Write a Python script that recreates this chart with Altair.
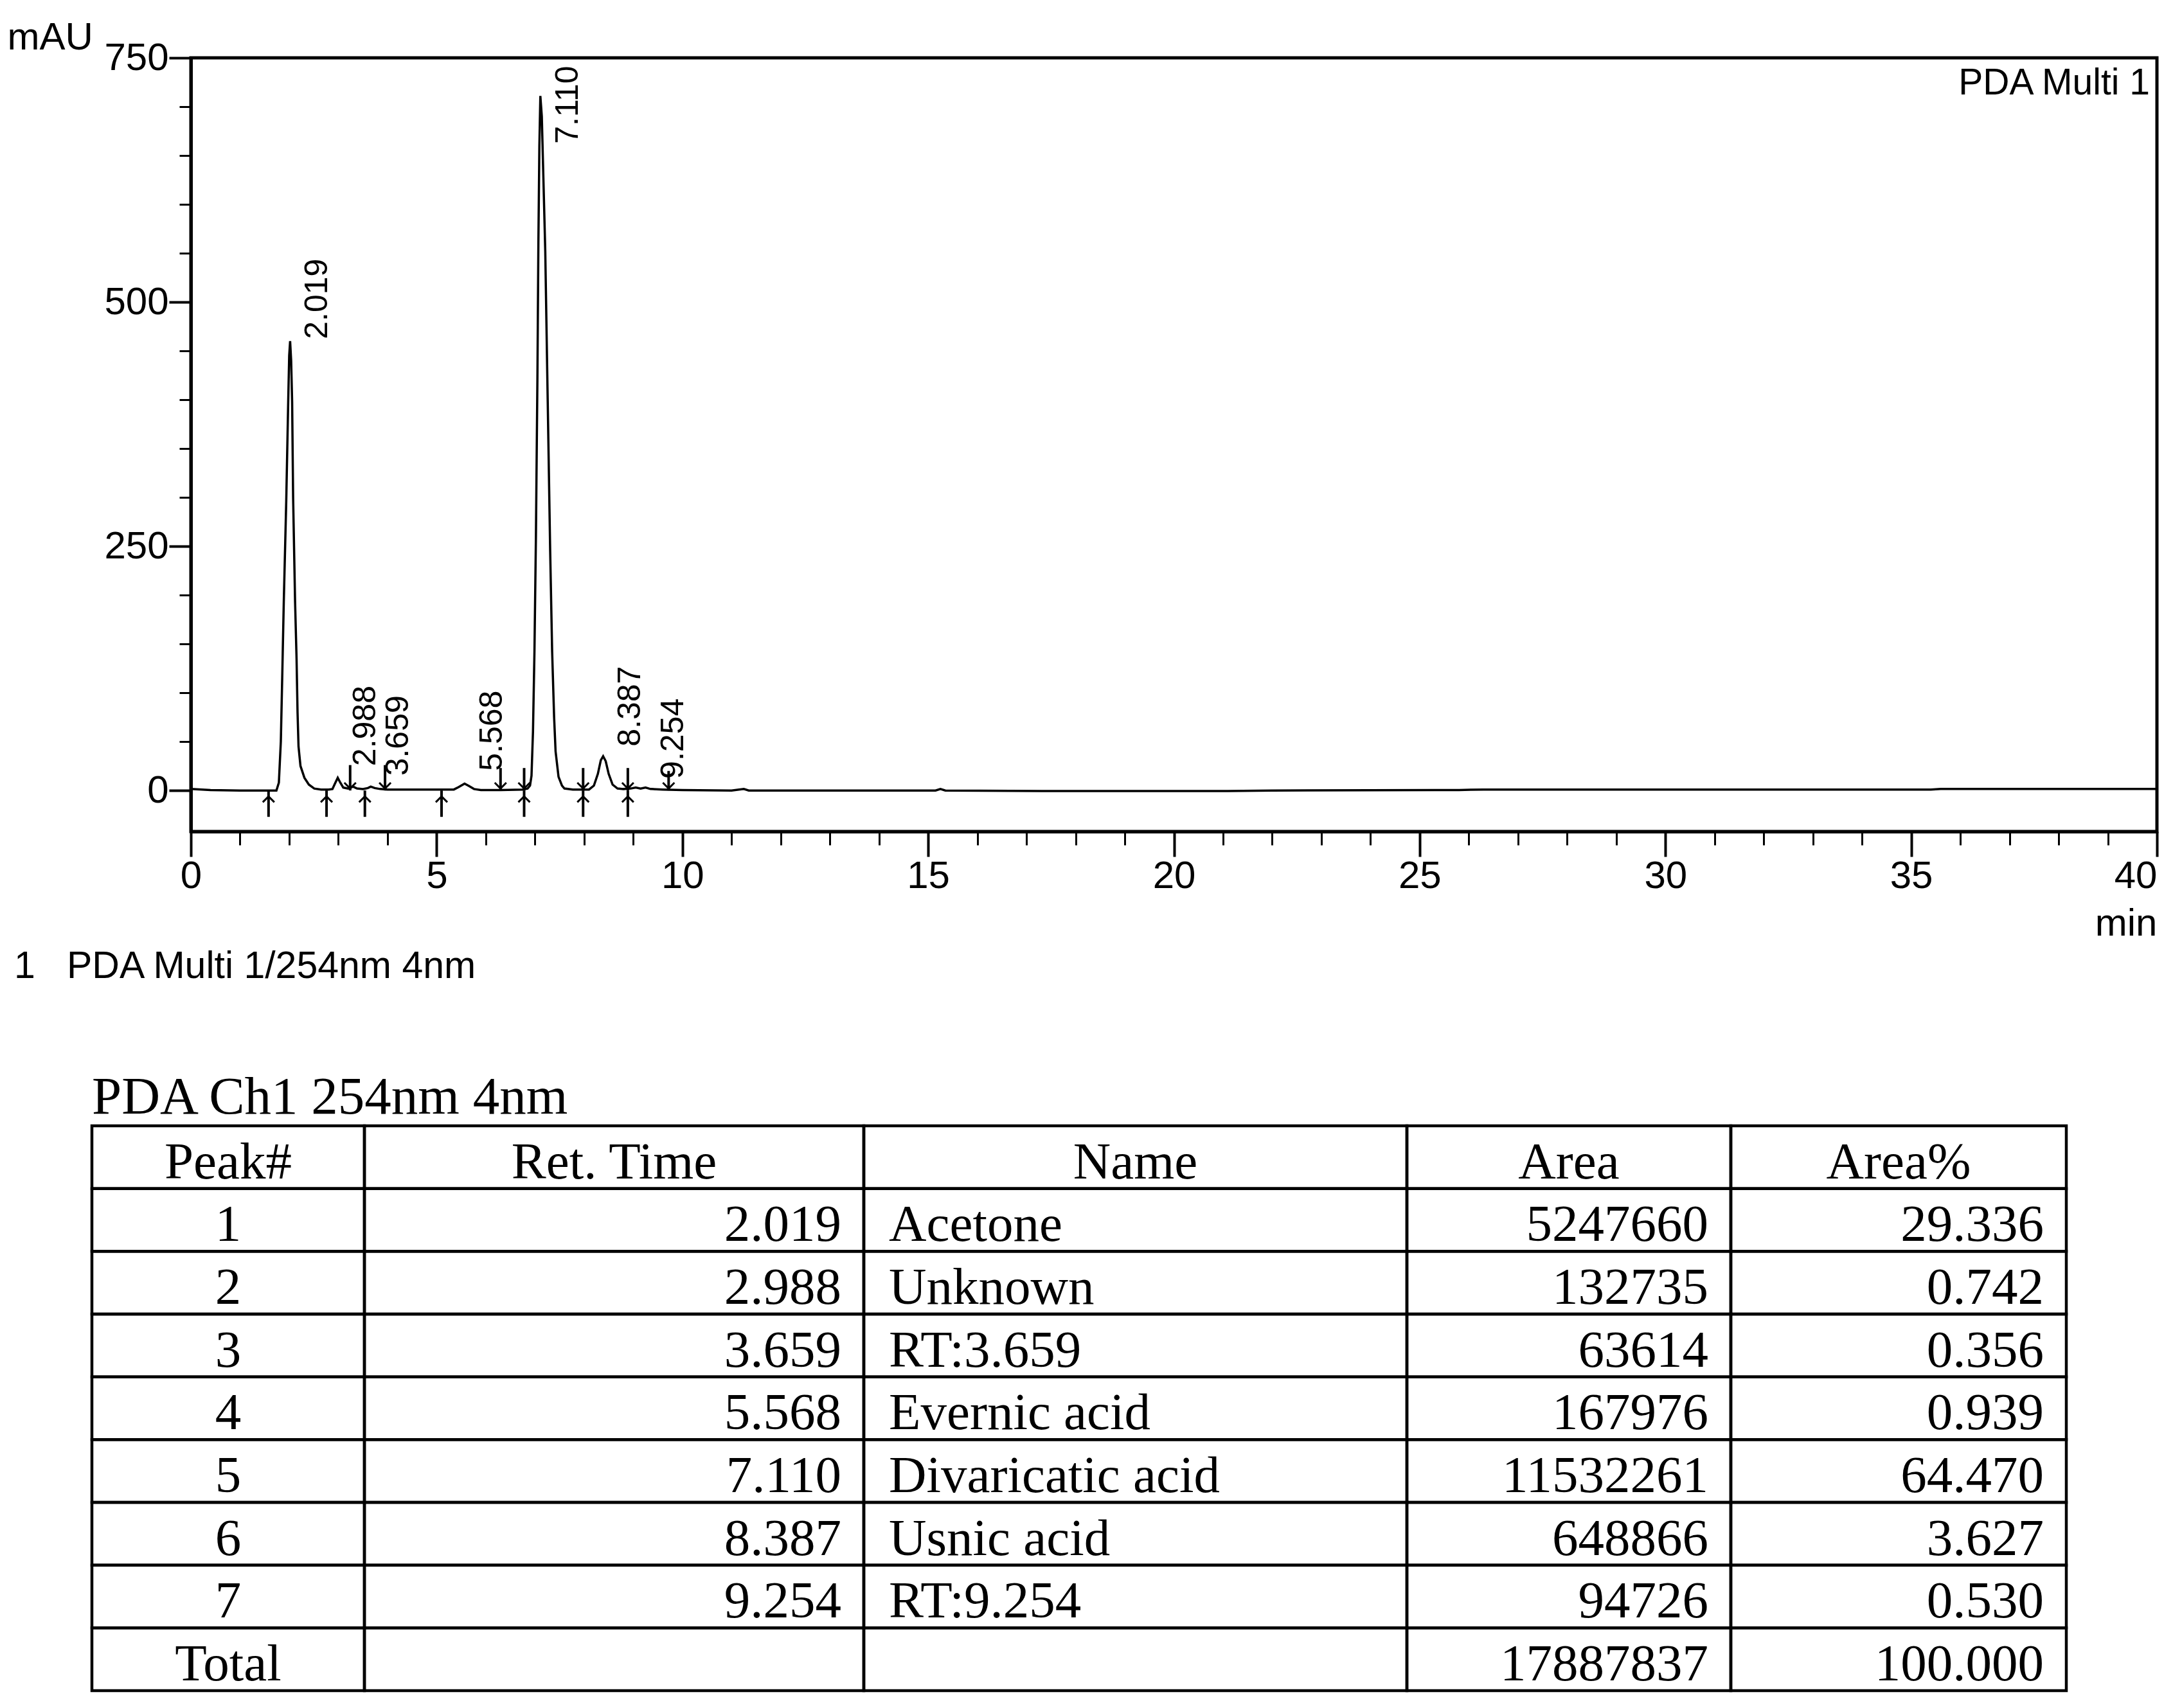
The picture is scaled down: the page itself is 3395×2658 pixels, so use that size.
import altair as alt
import pandas as pd

# ---------------- data ----------------
# chromatogram trace: (time [min], signal [mAU])
trace = [
    (0.0, 1.5), (0.4, 0.5), (1.0, 0), (1.60, 0), (1.74, 0), (1.79, 8), (1.83, 50),
    (1.86, 120), (1.89, 193), (1.94, 296), (1.98, 398), (2.00, 445), (2.019, 460),
    (2.04, 440), (2.06, 398), (2.08, 300), (2.12, 193), (2.15, 135), (2.17, 80),
    (2.19, 45), (2.23, 25), (2.31, 13), (2.40, 6), (2.51, 2), (2.65, 1), (2.80, 1),
    (2.88, 1.5), (2.94, 8), (2.988, 13), (3.04, 8), (3.10, 3), (3.20, 2), (3.30, 4),
    (3.38, 2), (3.50, 1.5), (3.60, 2.5), (3.66, 4), (3.74, 2.5), (3.85, 1.5), (4.0, 1),
    (4.5, 1), (5.0, 1), (5.35, 1), (5.45, 3.5), (5.568, 7), (5.66, 4.5), (5.76, 1.5),
    (5.90, 0.5), (6.30, 0.5), (6.75, 1), (6.85, 2), (6.90, 5), (6.93, 15), (6.96, 60),
    (6.99, 142), (7.02, 260), (7.05, 420), (7.07, 560), (7.09, 660), (7.11, 711),
    (7.14, 690), (7.16, 650), (7.21, 552), (7.26, 398), (7.31, 245), (7.35, 142),
    (7.39, 75), (7.42, 40), (7.48, 14), (7.55, 5), (7.60, 2), (7.77, 1), (8.10, 1),
    (8.20, 5), (8.28, 17), (8.34, 31), (8.387, 35), (8.44, 30), (8.50, 17), (8.58, 6),
    (8.68, 2), (8.80, 1.5), (8.95, 2), (9.05, 3), (9.15, 2), (9.25, 3), (9.35, 1.5),
    (9.60, 1), (10.0, 0.5), (11.0, 0), (11.25, 1.5), (11.35, 0), (15.15, 0),
    (15.25, 1.5), (15.35, 0), (17.3, -0.5), (21.1, -0.5), (22.0, 0), (25.3, 0.5),
    (25.8, 0.5), (26.3, 1), (35.4, 1), (35.6, 1.5), (40.0, 1.5),
]

peak_no = [1, 2, 3, 4, 5, 6, 7]
ret_time = [2.019, 2.988, 3.659, 5.568, 7.110, 8.387, 9.254]
peak_name = ["Acetone", "Unknown", "RT:3.659", "Evernic acid",
             "Divaricatic acid", "Usnic acid", "RT:9.254"]
peak_area = [5247660, 132735, 63614, 167976, 11532261, 648866, 94726]
area_pct = [29.336, 0.742, 0.356, 0.939, 64.470, 3.627, 0.530]
total_area = 17887837
total_pct = 100.000
label_base = [462, 25, 15, 20, 662, 45, 12]       # where each RT label starts (mAU)

start_marks = [1.58, 2.76, 3.54, 5.10, 6.78, 7.98, 8.89]   # baseline marks below
start_depth = [-27, -27, -27, -27, -27, -27, -27]
end_marks = [3.24, 3.95, 6.30, 6.78, 7.98, 8.89, 9.72]     # baseline marks above
end_height = [26, 26, 23, 23, 23, 23, 20]

x_major_ticks = [0, 5, 10, 15, 20, 25, 30, 35, 40]
x_minor_ticks = list(range(0, 41))
y_major_ticks = [0, 250, 500, 750]
y_minor_ticks = list(range(0, 751, 50))

header = ["Peak#", "Ret. Time", "Name", "Area", "Area%"]
table_title = "PDA Ch1 254nm 4nm"
channel_text = "1\u00a0\u00a0\u00a0PDA Multi 1/254nm 4nm"
corner_text = "PDA Multi 1"

# ---------------- styling ----------------
SANS = "Liberation Sans, Arial, sans-serif"
SERIF = "Liberation Serif, Times New Roman, serif"
W, H = 3059, 1204

xs = alt.Scale(domain=[0, 40], nice=False, zero=False)
ys = alt.Scale(domain=[-42, 750], nice=False, zero=False)

x_major = alt.Axis(
    orient="bottom", values=x_major_ticks, tickSize=39, tickWidth=4, tickColor="black",
    domain=True, domainWidth=5, domainColor="black", grid=False,
    labelFont=SANS, labelFontSize=60, labelColor="black", labelPadding=1,
    labelFlush=False, labelOverlap=False,
    labelAlign={"condition": {"test": "datum.value == 40", "value": "right"}, "value": "center"},
    title="min", titleFont=SANS, titleFontSize=60, titleFontWeight="normal",
    titleColor="black", titleAlign="right", titleBaseline="alphabetic",
    titleAngle=0, titleX=W, titleY=161,
)
y_major = alt.Axis(
    orient="left", values=y_major_ticks, tickSize=34, tickWidth=4, tickColor="black",
    domain=True, domainWidth=5, domainColor="black", grid=False,
    labelFont=SANS, labelFontSize=60, labelColor="black", labelPadding=1,
    labelFlush=False, labelOverlap=False,
    title="mAU", titleFont=SANS, titleFontSize=60, titleFontWeight="normal",
    titleColor="black", titleAlign="left", titleBaseline="alphabetic",
    titleAngle=0, titleX=-286, titleY=-14,
)
x_minor = alt.Axis(orient="bottom", values=x_minor_ticks, tickSize=21, tickWidth=3,
                   tickColor="black", domain=False, labels=False, grid=False, title=None)
y_minor = alt.Axis(orient="left", values=y_minor_ticks, tickSize=18, tickWidth=3,
                   tickColor="black", domain=False, labels=False, grid=False, title=None)

# ---------------- chromatogram ----------------
trace_df = pd.DataFrame(trace, columns=["t", "mau"])
curve = alt.Chart(trace_df).mark_line(color="black", strokeWidth=3.5).encode(
    x=alt.X("t:Q", scale=xs, axis=x_major),
    y=alt.Y("mau:Q", scale=ys, axis=y_major),
)

end_df = pd.DataFrame({"t": end_marks, "top": end_height, "base": [0] * len(end_marks)})
start_df = pd.DataFrame({"t": start_marks, "bottom": start_depth, "base": [0] * len(start_marks)})

end_rules = alt.Chart(end_df).mark_rule(color="black", strokeWidth=4).encode(
    x=alt.X("t:Q", scale=xs, axis=x_minor),
    y=alt.Y("top:Q", scale=ys, axis=y_minor),
    y2="base:Q",
)
start_rules = alt.Chart(start_df).mark_rule(color="black", strokeWidth=4).encode(
    x=alt.X("t:Q", scale=xs, axis=None),
    y=alt.Y("bottom:Q", scale=ys, axis=None),
    y2="base:Q",
)
up_heads = alt.Chart(start_df).transform_calculate(hy="-9").mark_point(
    shape="M-1,0.5L0,-0.5L1,0.5", size=324, filled=False, color="black", strokeWidth=3, opacity=1
).encode(
    x=alt.X("t:Q", scale=xs, axis=None),
    y=alt.Y("hy:Q", scale=ys, axis=None),
)
down_heads = alt.Chart(end_df).transform_calculate(hy="5").mark_point(
    shape="M-1,-0.5L0,0.5L1,-0.5", size=324, filled=False, color="black", strokeWidth=3, opacity=1
).encode(
    x=alt.X("t:Q", scale=xs, axis=None),
    y=alt.Y("hy:Q", scale=ys, axis=None),
)

lab_df = pd.DataFrame({"t": ret_time, "y": label_base,
                       "txt": [f"{v:.3f}" for v in ret_time]})
peak_labels = alt.Chart(lab_df).mark_text(
    angle=270, align="left", baseline="middle", dy=43, font=SANS, fontSize=50, color="black"
).encode(
    x=alt.X("t:Q", scale=xs, axis=None),
    y=alt.Y("y:Q", scale=ys, axis=None),
    text="txt:N",
)

corner = alt.Chart(pd.DataFrame({"t": [40], "y": [750], "txt": [corner_text]})).mark_text(
    align="right", baseline="alphabetic", dx=-11, dy=57, font=SANS, fontSize=57, color="black"
).encode(
    x=alt.X("t:Q", scale=xs, axis=None),
    y=alt.Y("y:Q", scale=ys, axis=None),
    text="txt:N",
)
channel = alt.Chart(pd.DataFrame({"t": [0], "y": [-42], "txt": [channel_text]})).mark_text(
    align="left", baseline="alphabetic", dx=-275, dy=228, font=SANS, fontSize=59, color="black"
).encode(
    x=alt.X("t:Q", scale=xs, axis=None),
    y=alt.Y("y:Q", scale=ys, axis=None),
    text="txt:N",
)

chrom = alt.layer(curve, end_rules, start_rules, up_heads, down_heads,
                  peak_labels, corner, channel).resolve_axis(x="independent", y="independent")

# ---------------- results table ----------------
col_widths = [424, 777, 845, 504, 522]
col_edges = [0]
for w in col_widths:
    col_edges.append(col_edges[-1] + w)
n_rows = 2 + len(peak_no)

tx = alt.Scale(domain=[0, col_edges[-1]], range=[-154, 2918], nice=False, zero=False)
ty = alt.Scale(domain=[0, n_rows], range=[1662, 2541], nice=False, zero=False)

cells = pd.DataFrame([
    {"x0": col_edges[c], "x1": col_edges[c + 1], "r0": r, "r1": r + 1}
    for r in range(n_rows) for c in range(len(col_widths))
])

rows = []
def center(c):
    return (col_edges[c] + col_edges[c + 1]) / 2

for c, h in enumerate(header):
    rows.append({"tx": center(c), "ty": 1, "label": h, "al": "center"})
for i in range(len(peak_no)):
    r = i + 2
    rows.append({"tx": center(0), "ty": r, "label": str(peak_no[i]), "al": "center"})
    rows.append({"tx": col_edges[2], "ty": r, "label": f"{ret_time[i]:.3f}", "al": "right"})
    rows.append({"tx": col_edges[2], "ty": r, "label": peak_name[i], "al": "left"})
    rows.append({"tx": col_edges[4], "ty": r, "label": str(peak_area[i]), "al": "right"})
    rows.append({"tx": col_edges[5], "ty": r, "label": f"{area_pct[i]:.3f}", "al": "right"})
rows.append({"tx": center(0), "ty": n_rows, "label": "Total", "al": "center"})
rows.append({"tx": col_edges[4], "ty": n_rows, "label": str(total_area), "al": "right"})
rows.append({"tx": col_edges[5], "ty": n_rows, "label": f"{total_pct:.3f}", "al": "right"})
text_df = pd.DataFrame(rows)

rects = alt.Chart(cells).mark_rect(fillOpacity=0, stroke="black", strokeWidth=4.5).encode(
    x=alt.X("x0:Q", scale=tx, axis=None), x2="x1:Q",
    y=alt.Y("r0:Q", scale=ty, axis=None), y2="r1:Q",
)

def cell_text(al, dx):
    return alt.Chart(text_df).transform_filter(alt.datum.al == al).mark_text(
        align=al, baseline="alphabetic", dx=dx, dy=-16, font=SERIF, fontSize=81, color="black"
    ).encode(
        x=alt.X("tx:Q", scale=tx, axis=None),
        y=alt.Y("ty:Q", scale=ty, axis=None),
        text="label:N",
    )

title_mark = alt.Chart(pd.DataFrame({"tx": [0], "ty": [0], "label": [table_title]})).mark_text(
    align="left", baseline="alphabetic", dy=-19, font=SERIF, fontSize=83, color="black"
).encode(
    x=alt.X("tx:Q", scale=tx, axis=None),
    y=alt.Y("ty:Q", scale=ty, axis=None),
    text="label:N",
)

table = alt.layer(rects, cell_text("center", 0), cell_text("right", -35),
                  cell_text("left", 39), title_mark)

chart = alt.layer(chrom, table).resolve_scale(x="independent", y="independent").properties(
    width=W, height=H,
    autosize=alt.AutoSizeParams(type="none"),
    padding={"left": 289, "top": 82, "right": 20, "bottom": 1354},
    background="white",
).configure_view(stroke="black", strokeWidth=5)

chart.save("out.html", embed_options={"renderer": "svg", "actions": False})
